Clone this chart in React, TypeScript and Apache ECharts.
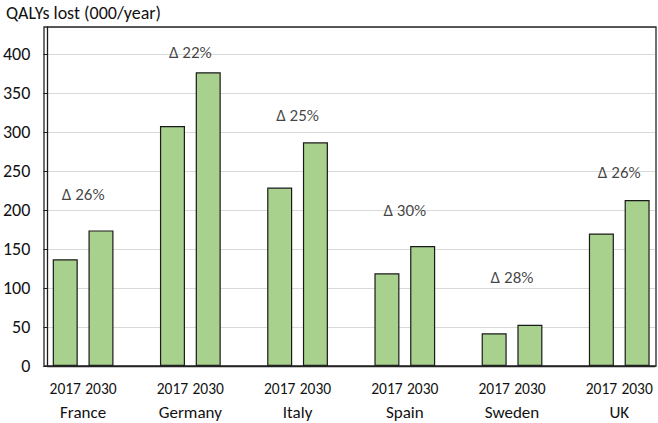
import React, { useEffect, useRef } from "react";
import * as echarts from "echarts";

const countries = ["France", "Germany", "Italy", "Spain", "Sweden", "UK"];
const years = ["2017", "2030"];
const values2017 = [137, 308, 229, 119, 42, 170];
const values2030 = [174, 377, 287, 154, 53, 213];
const deltaLabels = ["Δ 26%", "Δ 22%", "Δ 25%", "Δ 30%", "Δ 28%", "Δ 26%"];
const deltaLabelHeights = [220, 402, 322, 200, 113, 248];
const yTicks = [0, 50, 100, 150, 200, 250, 300, 350, 400];

const FONT = "Carlito, Lato, 'Noto Sans', sans-serif";
const TEXT = "#111111";

export default function App() {
  const ref = useRef<HTMLDivElement>(null);

  useEffect(() => {
    if (!ref.current) return;
    const chart = echarts.init(ref.current, undefined, { renderer: "svg" });

    const slotLabels: string[] = [];
    const barData: (number | null)[] = [];
    countries.forEach((_, i) => {
      slotLabels.push(years[0], years[1]);
      barData.push(values2017[i], values2030[i]);
      if (i < countries.length - 1) {
        slotLabels.push("");
        barData.push(null);
      }
    });
    const nSlots = slotLabels.length;
    const halfLabels: string[] = [];
    for (let k = 0; k <= nSlots * 2; k++) halfLabels.push("");
    const groupIdx: number[] = countries.map((_, i) => (i * 3 + 1) * 2);
    groupIdx.forEach((idx, i) => (halfLabels[idx] = countries[i]));

    const deltaData = groupIdx.map((idx, i) => [idx, deltaLabelHeights[i], deltaLabels[i]]);

    chart.setOption({
      animation: false,
      textStyle: { fontFamily: FONT, color: TEXT },
      title: {
        text: "QALYs lost (000/year)",
        left: 1,
        top: -1,
        textStyle: { fontFamily: FONT, fontSize: 18, fontWeight: "normal", color: TEXT },
      },
      grid: { left: 44, right: 2, top: 27, bottom: 57, containLabel: false },
      xAxis: [
        {
          type: "category",
          data: slotLabels,
          axisLine: { lineStyle: { color: "#1a1a1a", width: 1.3 } },
          axisTick: { show: false },
          axisLabel: { interval: 0, margin: 14, fontSize: 15.5, color: TEXT, fontFamily: FONT },
        },
        {
          type: "category",
          data: halfLabels,
          boundaryGap: false,
          position: "bottom",
          axisLine: { show: false },
          axisTick: { show: false },
          axisLabel: { interval: 0, margin: 37.5, fontSize: 17, color: TEXT, fontFamily: FONT },
          splitLine: { show: false },
        },
      ],
      yAxis: {
        type: "value",
        min: 0,
        max: 435,
        interval: 50,
        axisLine: { show: true, lineStyle: { color: "#1a1a1a", width: 1.3 } },
        axisTick: { show: true, length: 4, lineStyle: { color: "#1a1a1a" } },
        axisLabel: {
          margin: 17,
          fontSize: 18,
          color: TEXT,
          fontFamily: FONT,
          showMaxLabel: false,
          formatter: (v: number) => (yTicks.includes(v) ? String(v) : ""),
        },
        splitLine: { lineStyle: { color: "#d9d9d9", width: 1 } },
      },
      series: [
        {
          type: "bar",
          data: barData,
          barCategoryGap: "30%",
          itemStyle: { color: "#a9d18e", borderColor: "#1a1a1a", borderWidth: 1.2 },
        },
        {
          type: "scatter",
          xAxisIndex: 1,
          data: deltaData,
          symbolSize: 1,
          itemStyle: { color: "rgba(0,0,0,0)" },
          label: {
            show: true,
            position: "inside",
            formatter: (p: any) => p.data[2],
            fontSize: 17,
            color: TEXT,
            fontFamily: FONT,
          },
          silent: true,
        },
      ],
      graphic: [
        {
          type: "rect",
          z: 100,
          shape: { x: 44, y: 27, width: 612, height: 339 },
          style: { fill: "none", stroke: "#262626", lineWidth: 1.3 },
          silent: true,
        },
      ],
    });

    return () => chart.dispose();
  }, []);

  return (
    <div
      ref={ref}
      style={{ position: "fixed", left: 0, top: 0, width: 658, height: 423, background: "#fff" }}
    />
  );
}
